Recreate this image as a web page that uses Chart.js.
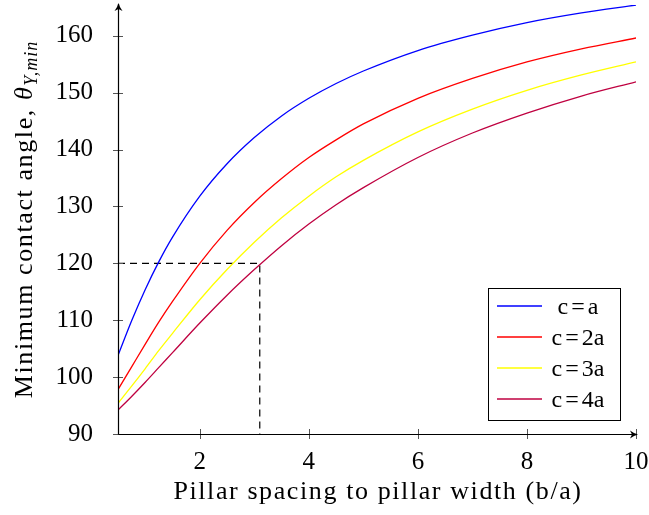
<!DOCTYPE html>
<html>
<head>
<meta charset="utf-8">
<script src="https://cdn.jsdelivr.net/npm/chart.js@4"></script>
<style>
  html, body { margin: 0; padding: 0; background: #fff; }
  #wrap { width: 649px; height: 515px; }
</style>
</head>
<body>
<div id="wrap"><canvas id="myChart" width="649" height="515"></canvas></div>
<script>
// ---- data ----
const ratio = [0.5, 0.75, 1, 1.25, 1.5, 2, 2.5, 3, 3.5, 4, 4.5, 5, 6, 7, 8, 9, 10];
const angleCa  = [103.8, 109.9, 115.4, 120.3, 124.6, 131.8, 137.5, 142.1, 145.9, 149.0, 151.6, 153.8, 157.4, 160.1, 162.3, 164.0, 165.4];
const angleC2a = [97.8, 101.8, 105.8, 109.7, 113.3, 120.0, 125.8, 130.7, 134.9, 138.6, 141.7, 144.5, 149.0, 152.5, 155.4, 157.7, 159.6];
const angleC3a = [95.4, 98.4, 101.5, 104.7, 107.7, 113.6, 118.9, 123.7, 128.0, 131.8, 135.2, 138.1, 143.1, 147.1, 150.4, 153.1, 155.4];
const angleC4a = [94.2, 96.6, 99.1, 101.7, 104.3, 109.5, 114.4, 118.9, 123.1, 126.9, 130.3, 133.3, 138.6, 142.9, 146.4, 149.4, 151.9];
const seriesLabels = ['c=a', 'c=2a', 'c=3a', 'c=4a'];
const seriesColors = ['#0000ff', '#ff0000', '#ffff00', '#bf0040'];
// dashed guide: 120 deg reached by c=4a at b/a ~ 3.1
const guideX = [0.5, 3.1, 3.1];
const guideY = [120, 120, 90];
const xTicks = [2, 4, 6, 8, 10];
const yTicks = [90, 100, 110, 120, 130, 140, 150, 160];
const xTitle = 'Pillar spacing to pillar width (b/a)';
const yTitleMain = 'Minimum contact angle, ';

const SERIF = '"Liberation Serif", "DejaVu Serif", serif';

const pts = (xs, ys) => xs.map((x, i) => ({x: x, y: ys[i]}));
const series = [angleCa, angleC2a, angleC3a, angleC4a];

const datasets = series.map((ys, i) => ({
    label: seriesLabels[i],
    data: pts(ratio, ys),
    borderColor: seriesColors[i],
    borderWidth: 1.3,
    pointRadius: 0,
    cubicInterpolationMode: 'monotone',
    fill: false
}));
datasets.push({
    label: 'guide',
    data: pts(guideX, guideY),
    borderColor: '#000',
    borderWidth: 1.2,
    borderDash: [7, 5],
    pointRadius: 0,
    tension: 0,
    fill: false
});

const noPad = s => { s.paddingTop = 0; s.paddingBottom = 0; s.paddingLeft = 0; s.paddingRight = 0; };

//----PLUGINS----
const axesPlugin = {
    id: 'axesArrows',
    afterDatasetsDraw(chart) {
        const { ctx, chartArea: { top, bottom, left, right }, scales: { x, y } } = chart;
        ctx.save();
        // tick marks crossing the axes
        ctx.strokeStyle = '#555';
        ctx.lineWidth = 1;
        xTicks.forEach(v => {
            const px = Math.round(x.getPixelForValue(v)) + 0.5;
            ctx.beginPath(); ctx.moveTo(px, bottom - 5); ctx.lineTo(px, bottom + 5); ctx.stroke();
        });
        yTicks.forEach(v => {
            const py = Math.round(y.getPixelForValue(v)) + 0.5;
            ctx.beginPath(); ctx.moveTo(left - 5, py); ctx.lineTo(left + 5, py); ctx.stroke();
        });
        // axis lines
        ctx.strokeStyle = '#000';
        ctx.fillStyle = '#000';
        ctx.lineWidth = 1.2;
        const ax = Math.round(left) + 0.5, ay = Math.round(bottom) + 0.5;
        ctx.beginPath(); ctx.moveTo(ax, ay); ctx.lineTo(right + 1, ay); ctx.stroke();
        ctx.beginPath(); ctx.moveTo(ax, ay); ctx.lineTo(ax, top - 1); ctx.stroke();
        // arrow heads
        const tipX = right + 2;
        ctx.beginPath();
        ctx.moveTo(tipX, ay);
        ctx.quadraticCurveTo(tipX - 4, ay - 1, tipX - 8, ay - 4);
        ctx.lineTo(tipX - 6, ay);
        ctx.lineTo(tipX - 8, ay + 4);
        ctx.quadraticCurveTo(tipX - 4, ay + 1, tipX, ay);
        ctx.fill();
        const tipY = top - 2;
        ctx.beginPath();
        ctx.moveTo(ax, tipY);
        ctx.quadraticCurveTo(ax - 1, tipY + 4, ax - 4, tipY + 8);
        ctx.lineTo(ax, tipY + 6);
        ctx.lineTo(ax + 4, tipY + 8);
        ctx.quadraticCurveTo(ax + 1, tipY + 4, ax, tipY);
        ctx.fill();
        ctx.restore();
    }
};

const legendBox = {
    id: 'legendBox',
    afterDraw(chart) {
        const { ctx } = chart;
        const bx = 488.5, by = 288.5, bw = 132, bh = 132;
        ctx.save();
        ctx.fillStyle = '#fff';
        ctx.fillRect(bx, by, bw, bh);
        ctx.strokeStyle = '#000';
        ctx.lineWidth = 1;
        ctx.strokeRect(bx, by, bw, bh);
        ctx.font = '24px ' + SERIF;
        ctx.textAlign = 'left';
        ctx.textBaseline = 'alphabetic';
        seriesLabels.forEach((lab, i) => {
            const cy = 306 + i * 31;
            ctx.strokeStyle = seriesColors[i];
            ctx.lineWidth = 1.3;
            ctx.beginPath(); ctx.moveTo(497, cy); ctx.lineTo(542, cy); ctx.stroke();
            // "c", "=", rest, with relation spacing round "="
            const parts = [lab.slice(0, 1), '=', lab.slice(2)];
            const gap = 3;
            const ws = parts.map(p => ctx.measureText(p).width);
            let cx = 578 - (ws[0] + ws[1] + ws[2] + 2 * gap) / 2;
            ctx.fillStyle = '#000';
            parts.forEach((p, k) => { ctx.fillText(p, cx, cy + 8); cx += ws[k] + gap; });
        });
        ctx.restore();
    }
};

const axisTitles = {
    id: 'axisTitles',
    afterDraw(chart) {
        const { ctx, chartArea: { top, bottom, left, right } } = chart;
        ctx.save();
        ctx.fillStyle = '#000';
        ctx.textBaseline = 'alphabetic';
        ctx.letterSpacing = '1.6px';
        // x title
        ctx.font = '26px ' + SERIF;
        ctx.textAlign = 'center';
        ctx.fillText(xTitle, (left + right) / 2 + 1, 499);
        // y title with subscript
        const fMain = '26px ' + SERIF, fIt = 'italic 26px ' + SERIF, fSub = 'italic 18px ' + SERIF;
        ctx.textAlign = 'left';
        ctx.font = fMain; const w1 = ctx.measureText(yTitleMain).width;
        ctx.font = fIt; const w2 = ctx.measureText('θ').width;
        ctx.letterSpacing = '1px';
        ctx.font = fSub; const w3 = ctx.measureText('Y,min').width;
        const total = w1 + w2 + w3;
        ctx.translate(32, (top + bottom) / 2);
        ctx.rotate(-Math.PI / 2);
        let cx = -total / 2;
        ctx.letterSpacing = '1.6px';
        ctx.font = fMain; ctx.fillText(yTitleMain, cx, 0); cx += w1;
        ctx.font = fIt; ctx.fillText('θ', cx, 0); cx += w2;
        ctx.letterSpacing = '1px';
        ctx.font = fSub; ctx.fillText('Y,min', cx, 5);
        ctx.restore();
    }
};

//----CONFIG----
const config = {
    type: 'line',
    data: { datasets },
    options: {
        responsive: false,
        animation: false,
        layout: { padding: { top: 5, right: 13, left: 0, bottom: 0 } },
        scales: {
            x: {
                type: 'linear',
                min: 0.5,
                max: 10,
                border: { display: false },
                grid: { display: false },
                afterBuildTicks: s => { s.ticks = xTicks.map(v => ({ value: v })); },
                afterFit: s => { s.height = 81; noPad(s); },
                ticks: { color: '#000', font: { family: SERIF, size: 25 }, padding: 5, maxRotation: 0 }
            },
            y: {
                type: 'linear',
                min: 90,
                max: 165.4,
                border: { display: false },
                grid: { display: false },
                afterBuildTicks: s => { s.ticks = yTicks.map(v => ({ value: v })); },
                afterFit: s => { s.width = 118; noPad(s); },
                ticks: { color: '#000', font: { family: SERIF, size: 25 }, padding: 17 }
            }
        },
        plugins: {
            legend: { display: false },
            tooltip: { enabled: false }
        }
    },
    plugins: [axesPlugin, legendBox, axisTitles]
};

const myChart = new Chart(document.getElementById('myChart'), config);
</script>
</body>
</html>
